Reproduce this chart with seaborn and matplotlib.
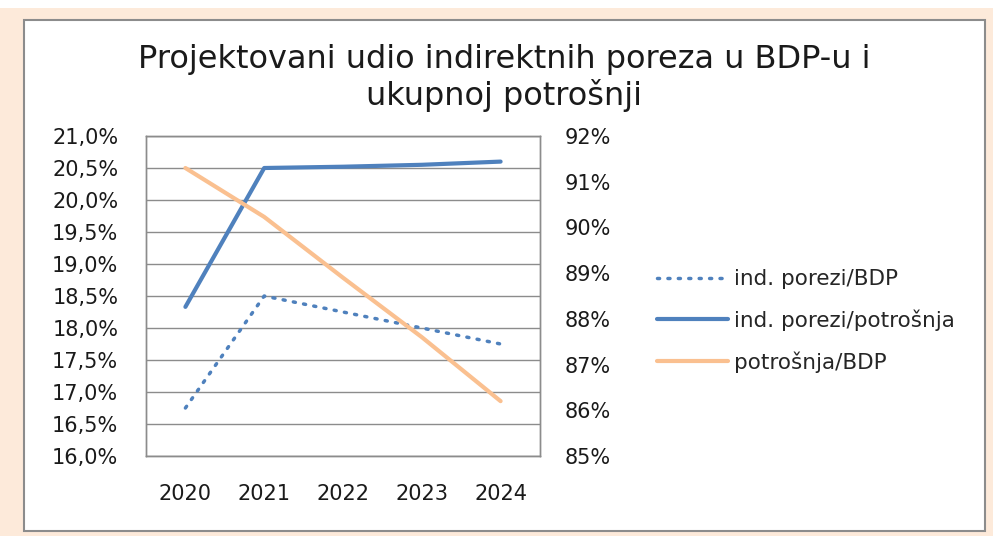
import matplotlib.pyplot as plt
import matplotlib.patches as mpatches
from matplotlib.lines import Line2D
import matplotlib.ticker as mticker
import pandas as pd
import seaborn as sns

years = ["2020", "2021", "2022", "2023", "2024"]
porezi_bdp = [16.75, 18.5, 18.25, 18.0, 17.75]
porezi_potrosnja = [18.33, 20.5, 20.52, 20.55, 20.6]
potrosnja_bdp = [91.3, 90.23, 88.9, 87.6, 86.2]

blue = "#4F81BD"
orange = "#FAC090"
peach = "#FDEADA"
grey = "#8C8C8C"

sns.set_theme(style="white")
plt.rcParams["font.family"] = ["DejaVu Sans"]

df = pd.DataFrame({
    "year": years,
    "porezi_bdp": porezi_bdp,
    "porezi_potrosnja": porezi_potrosnja,
    "potrosnja_bdp": potrosnja_bdp,
})
df["x"] = range(len(years))

fig = plt.figure(figsize=(9.93, 5.36), dpi=100)
fig.patch.set_facecolor(peach)

# top white strip and white chart panel
fig.patches.append(mpatches.Rectangle((0, 1 - 8 / 536), 1, 8 / 536, transform=fig.transFigure,
                                      facecolor="white", edgecolor="none", zorder=-5))
fig.patches.append(mpatches.Rectangle((24 / 993, 5 / 536), 961 / 993, 511 / 536, transform=fig.transFigure,
                                      facecolor="white", edgecolor=grey, linewidth=1.5, zorder=-5))

ax = fig.add_axes([146 / 993, 80 / 536, 394 / 993, 320 / 536])
ax.set_facecolor("none")
ax2 = ax.twinx()
ax2.set_facecolor("none")

sns.lineplot(data=df, x="x", y="porezi_bdp", ax=ax, color=blue, linewidth=2.5,
             linestyle=(0, (0.6, 2.4)))
sns.lineplot(data=df, x="x", y="porezi_potrosnja", ax=ax, color=blue, linewidth=3)
sns.lineplot(data=df, x="x", y="potrosnja_bdp", ax=ax2, color=orange, linewidth=3)
ax.lines[0].set_dash_capstyle("round")

ax.set_xlim(-0.5, 4.5)
ax.set_ylim(16, 21)
ax2.set_ylim(85, 92)
ax.set_yticks([16 + 0.5 * i for i in range(11)])
ax2.set_yticks(range(85, 93))
ax.yaxis.set_major_formatter(mticker.FuncFormatter(lambda v, p: f"{v:.1f}%".replace(".", ",")))
ax2.yaxis.set_major_formatter(mticker.FuncFormatter(lambda v, p: f"{v:.0f}%"))
ax.set_xticks(df["x"])
ax.set_xticklabels(years)
ax.set_xlabel("")
ax.set_ylabel("")
ax2.set_ylabel("")

ax.grid(axis="y", color=grey, linewidth=1)
ax.set_axisbelow(True)
for a in (ax, ax2):
    for s in a.spines.values():
        s.set_color(grey)
        s.set_linewidth(1)
ax.tick_params(axis="both", length=0, labelsize=15, colors="#1a1a1a")
ax.tick_params(axis="x", pad=20)
ax.tick_params(axis="y", pad=20)
ax2.tick_params(axis="y", length=0, labelsize=15, colors="#1a1a1a", pad=18)

fig.text(0.508, 0.855, "Projektovani udio indirektnih poreza u BDP-u i\nukupnoj potrošnji",
         ha="center", va="center", fontsize=23, color="#1a1a1a", linespacing=1.15)

handles = [
    Line2D([], [], color=blue, linewidth=2.5, linestyle=(0, (0.6, 2.4)), dash_capstyle="round"),
    Line2D([], [], color=blue, linewidth=3),
    Line2D([], [], color=orange, linewidth=3),
]
labels = ["ind. porezi/BDP", "ind. porezi/potrošnja", "potrošnja/BDP"]
fig.legend(handles, labels, loc="center left", bbox_to_anchor=(638 / 993, 1 - 321 / 536),
           frameon=False, fontsize=15.5, handlelength=3.3, labelspacing=0.95, handletextpad=0.25)

fig.savefig("out.png", dpi=100, facecolor=fig.get_facecolor())
